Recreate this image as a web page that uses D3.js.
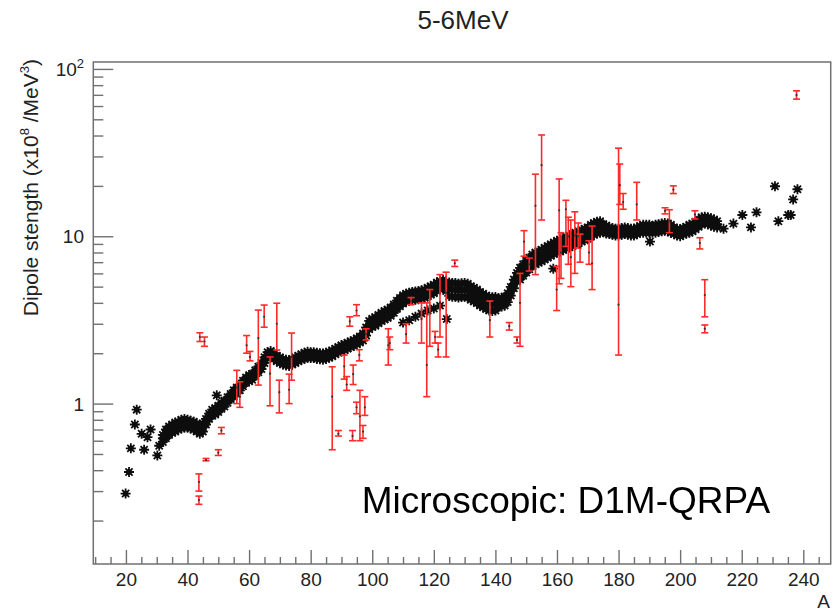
<!DOCTYPE html>
<html><head><meta charset="utf-8">
<script src="https://cdn.jsdelivr.net/npm/d3@7"></script>
<style>
body{margin:0;background:#fff}
svg{display:block}
text{font-family:"Liberation Sans",Arial,Helvetica,sans-serif}
</style>
</head><body>
<svg id="chart" width="840" height="612"></svg>
<script>
// ---------------- DATA ----------------
const titleText = "5-6MeV";
const xLabel = "A";
const annotation = "Microscopic: D1M-QRPA";
const xMajorTicks = [20,40,60,80,100,120,140,160,180,200,220,240];
const xMinorTicks = [10,15,25,30,35,45,50,55,65,70,75,85,90,95,105,110,115,125,130,135,145,150,155,165,170,175,185,190,195,205,210,215,225,230,235,245];
const yMajorTicks = [1,10,100];
const yTickLabels = [["1",""],["10",""],["10","2"]];
const yMinorTicks = [0.2,0.3,0.4,0.5,0.6,0.7,0.8,0.9,2,3,4,5,6,7,8,9,20,30,40,50,60,70,80,90];

// Theory (D1M-QRPA) dense band: A, lower edge, centre, upper edge
const theoryA = [32,33,34,35,36,37,38,39,40,41,42,43,44,45,46,47,48,49,50,51,52,53,54,55,56,57,58,59,60,61,62,63,64,65,66,67,68,69,70,71,72,73,74,75,76,77,78,79,80,81,82,83,84,85,86,87,88,89,90,91,92,93,94,95,96,97,98,99,100,101,102,103,104,105,106,107,108,109,110,111,112,113,114,115,116,117,118,119,120,121,122,123,124,125,126,127,128,129,130,131,132,133,134,135,136,137,138,139,140,141,142,143,144,145,146,147,148,149,150,151,152,153,154,155,156,157,158,159,160,161,162,163,164,165,166,167,168,169,170,171,172,173,174,175,176,177,178,179,180,181,182,183,184,185,186,187,188,189,190,191,192,193,194,195,196,197,198,199,200,201,202,203,204,205,206,207,208,209,210,211,212];
const theoryLo = [0.59,0.62,0.65,0.67,0.68,0.70,0.71,0.72,0.72,0.71,0.70,0.68,0.66,0.68,0.75,0.81,0.85,0.86,0.89,0.93,0.96,1.01,1.06,1.10,1.15,1.20,1.27,1.33,1.36,1.39,1.46,1.54,1.61,1.75,1.87,1.90,1.85,1.79,1.75,1.71,1.69,1.68,1.71,1.75,1.79,1.83,1.85,1.88,1.87,1.87,1.85,1.84,1.83,1.85,1.88,1.92,1.97,2.02,2.05,2.09,2.13,2.18,2.21,2.26,2.32,2.38,2.55,2.78,2.88,2.92,3.02,3.11,3.18,3.25,3.35,3.49,3.68,3.82,3.96,4.06,4.10,4.15,4.17,4.20,4.24,4.29,4.38,4.48,4.57,4.71,4.80,4.90,4.70,4.40,4.35,4.35,4.30,4.33,4.35,4.30,4.17,4.08,3.99,3.85,3.76,3.67,3.60,3.58,3.60,3.76,3.81,3.85,4.04,4.42,4.89,5.36,5.52,5.80,6.07,6.35,6.62,6.81,6.95,7.08,7.27,7.45,7.64,7.82,8.00,8.10,8.28,8.46,8.60,8.74,8.92,9.11,9.29,9.48,9.66,9.94,10.2,10.4,10.5,10.6,10.4,10.3,10.2,10.1,10.1,10.2,10.3,10.2,10.1,10.1,10.3,10.5,10.5,10.5,10.5,10.5,10.5,10.6,10.7,10.8,10.7,10.5,10.3,10.1,10.0,10.2,10.4,10.5,10.7,11.0,11.4,11.8,11.9,11.8,11.6,11.4,11.3];
const theoryMid = [0.62,0.66,0.69,0.71,0.72,0.74,0.75,0.76,0.76,0.75,0.74,0.72,0.70,0.72,0.78,0.84,0.88,0.90,0.93,0.97,1.00,1.05,1.10,1.15,1.20,1.25,1.32,1.38,1.42,1.45,1.52,1.60,1.68,1.82,1.95,1.98,1.93,1.86,1.82,1.78,1.76,1.75,1.78,1.82,1.86,1.90,1.93,1.96,1.95,1.95,1.93,1.92,1.91,1.93,1.96,2.00,2.05,2.10,2.14,2.18,2.22,2.27,2.30,2.36,2.42,2.50,2.70,2.95,3.05,3.10,3.20,3.30,3.38,3.45,3.55,3.70,3.90,4.05,4.20,4.30,4.35,4.40,4.42,4.45,4.50,4.55,4.65,4.75,4.85,5.00,5.10,5.20,5.00,4.85,4.80,4.80,4.75,4.78,4.80,4.75,4.60,4.50,4.40,4.25,4.15,4.05,3.97,3.95,3.97,4.00,4.05,4.10,4.30,4.70,5.20,5.70,6.00,6.30,6.60,6.90,7.20,7.40,7.55,7.70,7.90,8.10,8.30,8.50,8.70,8.80,9.00,9.20,9.35,9.50,9.70,9.90,10.1,10.3,10.5,10.8,11.1,11.3,11.4,11.2,11.0,10.8,10.7,10.6,10.6,10.7,10.8,10.7,10.6,10.6,10.8,11.0,11.1,11.1,11.1,11.0,11.1,11.2,11.3,11.4,11.3,11.1,10.8,10.6,10.5,10.7,10.9,11.1,11.3,11.6,12.0,12.4,12.5,12.4,12.2,12.0,11.8];
const theoryHi = [0.65,0.70,0.73,0.75,0.77,0.78,0.80,0.81,0.80,0.79,0.78,0.76,0.74,0.76,0.81,0.87,0.92,0.94,0.97,1.01,1.04,1.09,1.14,1.20,1.25,1.30,1.37,1.43,1.48,1.51,1.58,1.66,1.75,1.89,2.03,2.06,2.01,1.93,1.89,1.85,1.83,1.82,1.85,1.89,1.93,1.97,2.01,2.04,2.03,2.03,2.01,2.00,1.99,2.01,2.04,2.08,2.13,2.18,2.23,2.27,2.31,2.36,2.39,2.46,2.52,2.62,2.85,3.12,3.22,3.28,3.38,3.49,3.58,3.65,3.75,3.91,4.12,4.28,4.44,4.54,4.60,4.65,4.67,4.70,4.76,4.81,4.92,5.02,5.13,5.29,5.40,5.50,5.30,5.30,5.25,5.25,5.20,5.23,5.25,5.20,5.03,4.92,4.81,4.65,4.54,4.43,4.34,4.32,4.34,4.24,4.29,4.35,4.56,4.98,5.51,6.04,6.48,6.80,7.13,7.45,7.78,7.99,8.15,8.32,8.53,8.75,8.96,9.18,9.40,9.50,9.72,9.94,10.1,10.3,10.5,10.7,10.9,11.1,11.3,11.7,12.0,12.2,12.3,11.8,11.6,11.3,11.2,11.1,11.1,11.2,11.3,11.2,11.1,11.1,11.3,11.5,11.7,11.7,11.7,11.5,11.7,11.8,11.9,12.0,11.9,11.7,11.3,11.1,11.0,11.2,11.4,11.7,11.9,12.2,12.6,13.0,13.1,13.0,12.8,12.6,12.3];

// Theory isolated points (light nuclei, branches, heavy nuclei)
const isoA = [19.9,21.0,21.6,22.9,23.5,25.1,25.9,27.0,28.0,30.2,30.8,49.5,110,112,114,116,118,120,122,124.2,158.8,190.2,214.1,217.3,220.2,223.0,224.8,230.8,231.9,235.1,235.9,236.7,238.1];
const isoV = [0.29,0.39,0.54,0.75,0.92,0.66,0.53,0.63,0.70,0.49,0.56,1.12,3.05,3.15,3.30,3.45,3.60,3.70,3.85,3.20,6.4,9.3,11.1,11.9,13.4,11.3,13.9,19.9,12.3,13.4,13.4,16.6,19.1];

// Experimental data with error bars: A, value, lower, upper
const expA  = [43.7,43.7,44.0,45.5,46.0,50.0,51.0,56.0,57.0,59.2,60.3,63.0,64.9,66.8,69.0,69.8,73.0,73.8,87.0,89.0,90.9,91.7,92.7,93.6,93.8,94.9,94.9,95.8,96.0,97.0,97.6,98.0,105.2,105.7,111.0,112.6,116.0,117.7,118.7,120.4,121.4,122.0,124.0,126.8,138.2,144.5,147.0,148.0,149.3,151.0,153.0,155.0,159.9,160.7,161.3,162.9,163.7,164.5,165.8,166.9,167.5,170.4,171.4,180.0,180.4,181.5,185.9,195.1,196.5,197.8,204.8,206.4,208.0,208.0,237.8];
const expV  = [0.34,0.265,2.5,2.35,0.46,0.51,0.69,1.25,1.10,2.23,1.90,2.46,3.30,1.51,3.00,1.17,1.21,1.90,1.10,0.66,1.67,1.30,3.10,0.64,1.50,3.60,0.95,1.95,0.84,0.68,0.95,2.60,2.23,2.30,2.60,4.10,3.20,1.70,3.50,2.50,2.10,4.00,4.60,6.90,3.15,2.90,2.40,4.00,9.30,6.80,15.2,26.6,4.80,14.3,8.00,14.5,10.0,7.5,10.1,10.0,8.6,8.00,6.90,3.90,20.2,16.0,15.5,14.2,12.3,19.0,13.5,9.10,4.45,2.80,69.8];
const expLo = [0.30,0.25,2.35,2.2,0.455,0.49,0.66,1.00,0.95,2.00,1.80,1.29,2.86,0.97,2.09,0.88,1.00,1.38,0.53,0.64,1.40,1.20,2.90,0.60,1.30,3.35,0.87,1.80,0.60,0.62,0.85,2.40,1.70,2.10,2.30,3.90,2.30,1.10,2.20,2.30,1.90,2.50,1.90,6.60,2.50,2.75,2.30,2.20,7.60,6.20,5.9,12.5,3.60,5.2,5.60,8.7,6.8,5.0,6.0,8.5,7.0,6.80,4.80,1.95,15.5,14.5,12.5,13.6,10.5,18.0,12.7,8.40,3.30,2.65,66.0];
const expHi = [0.38,0.28,2.65,2.5,0.47,0.53,0.72,1.58,1.35,2.55,2.05,3.62,3.88,1.90,3.98,1.38,1.50,2.64,1.66,0.69,1.95,1.45,3.30,0.69,1.70,3.90,1.02,2.10,1.20,0.74,1.10,2.80,2.80,2.50,3.00,4.30,4.00,4.00,4.80,2.70,2.30,5.90,6.10,7.20,4.10,3.05,2.50,6.00,10.8,7.40,23.5,40.3,6.60,22.0,10.5,16.4,13.0,12.5,14.0,12.0,10.3,9.40,11.5,33.6,27.0,18.0,21.0,14.8,14.4,20.0,14.2,9.80,5.50,2.95,74.0];

// ---------------- CHART ----------------
const W = 840, H = 612;
const frame = {left: 93.3, right: 830.7, top: 62, bottom: 564};
const svg = d3.select("#chart");
svg.append("rect").attr("width", W).attr("height", H).attr("fill", "#fff");
const defs = svg.append("defs");
defs.append("filter").attr("id", "soft").attr("x", "-5%").attr("y", "-5%").attr("width", "110%").attr("height", "110%")
  .append("feGaussianBlur").attr("stdDeviation", 0.6);

const x = d3.scaleLinear().domain([9.4, 248.9]).range([frame.left, frame.right]);
const y = d3.scaleLog().domain([0.11, 110]).range([frame.bottom, frame.top]);

const axisColor = "#707070";

// title
svg.append("text").attr("x", 463).attr("y", 29).attr("text-anchor", "middle")
  .attr("font-size", 26).attr("fill", "#222").text(titleText);

// axes
const gx = svg.append("g").attr("transform", `translate(0,${frame.bottom})`)
  .call(d3.axisBottom(x).tickValues(xMajorTicks).tickSizeInner(-14).tickSizeOuter(0).tickPadding(9));
const gxm = svg.append("g").attr("transform", `translate(0,${frame.bottom})`)
  .call(d3.axisBottom(x).tickValues(xMinorTicks).tickSizeInner(-7).tickSizeOuter(0).tickFormat(""));
const gy = svg.append("g").attr("transform", `translate(${frame.left},0)`)
  .call(d3.axisLeft(y).tickValues(yMajorTicks).tickSizeInner(-20).tickSizeOuter(0).tickFormat(""));
const gym = svg.append("g").attr("transform", `translate(${frame.left},0)`)
  .call(d3.axisLeft(y).tickValues(yMinorTicks).tickSizeInner(-10).tickSizeOuter(0).tickFormat(""));
[gx, gxm, gy, gym].forEach(g => {
  g.select(".domain").remove();
  g.selectAll(".tick line").attr("stroke", axisColor).attr("stroke-width", 1.4);
});
gx.selectAll(".tick text").attr("font-size", 19).attr("fill", "#222")
  .attr("font-family", '"Liberation Sans",Arial,sans-serif');

// y tick labels with superscript
const yl = svg.append("g").selectAll("text").data(yMajorTicks).join("text")
  .attr("x", 84).attr("y", d => y(d) + 7).attr("text-anchor", "end")
  .attr("font-size", 19).attr("fill", "#222");
yl.each(function(d, i) {
  const t = d3.select(this);
  t.append("tspan").text(yTickLabels[i][0]);
  if (yTickLabels[i][1]) t.append("tspan").attr("dy", -8).attr("font-size", 13).text(yTickLabels[i][1]);
});

// frame
svg.append("rect").attr("x", frame.left).attr("y", frame.top)
  .attr("width", frame.right - frame.left).attr("height", frame.bottom - frame.top)
  .attr("fill", "none").attr("stroke", axisColor).attr("stroke-width", 1.5);

// y axis title
const yt = svg.append("text").attr("transform", `translate(38,59) rotate(-90)`)
  .attr("text-anchor", "end").attr("font-size", 21).attr("fill", "#222");
yt.append("tspan").text("Dipole stength (x10");
yt.append("tspan").attr("dy", -9).attr("font-size", 13).text("8");
yt.append("tspan").attr("dy", 9).text(" /MeV");
yt.append("tspan").attr("dy", -9).attr("font-size", 13).text("3");
yt.append("tspan").attr("dy", 9).text(")");

// x axis title
svg.append("text").attr("x", 830).attr("y", 608).attr("text-anchor", "end")
  .attr("font-size", 19).attr("fill", "#222").text(xLabel);

// star marker (ROOT style asterisk)
const starType = {
  draw(ctx, size) {
    const r = Math.sqrt(size) / 2, d = r * 0.72;
    ctx.moveTo(-r, 0); ctx.lineTo(r, 0);
    ctx.moveTo(0, -r); ctx.lineTo(0, r);
    ctx.moveTo(-d, -d); ctx.lineTo(d, d);
    ctx.moveTo(-d, d); ctx.lineTo(d, -d);
  }
};
const starPath = d3.symbol().type(starType).size(100)();

const plot = svg.append("g").attr("filter", "url(#soft)");
function drawStars(data) {
  const g = plot.append("g").selectAll("g").data(data).join("g")
    .attr("transform", d => `translate(${x(d[0])},${y(d[1])})`);
  g.append("circle").attr("r", 2.8).attr("fill", "#111");
  g.append("path").attr("d", starPath).attr("stroke", "#111").attr("stroke-width", 1.8).attr("fill", "none");
}
drawStars(theoryA.map((a, i) => [a, theoryLo[i]]));
drawStars(theoryA.map((a, i) => [a, theoryMid[i]]));
drawStars(theoryA.map((a, i) => [a, theoryHi[i]]));
drawStars(isoA.map((a, i) => [a, isoV[i]]));

// experimental error bars
const exp = expA.map((a, i) => ({a, v: expV[i], lo: expLo[i], hi: expHi[i]}));
const eg = plot.append("g").selectAll("g").data(exp).join("g");
const red = "#ff2a2a";
eg.append("line").attr("x1", d => x(d.a)).attr("x2", d => x(d.a))
  .attr("y1", d => y(d.lo)).attr("y2", d => y(d.hi))
  .attr("stroke", red).attr("stroke-width", 1.6);
eg.append("line").attr("x1", d => x(d.a) - 3.5).attr("x2", d => x(d.a) + 3.5)
  .attr("y1", d => y(d.lo)).attr("y2", d => y(d.lo))
  .attr("stroke", red).attr("stroke-width", 1.6);
eg.append("line").attr("x1", d => x(d.a) - 3.5).attr("x2", d => x(d.a) + 3.5)
  .attr("y1", d => y(d.hi)).attr("y2", d => y(d.hi))
  .attr("stroke", red).attr("stroke-width", 1.6);
eg.append("circle").attr("cx", d => x(d.a)).attr("cy", d => y(d.v)).attr("r", 1.1).attr("fill", "#333");

// annotation
svg.append("text").attr("x", 361.7).attr("y", 512.7).attr("font-size", 37)
  .attr("fill", "#000").text(annotation);
</script>
</body></html>
